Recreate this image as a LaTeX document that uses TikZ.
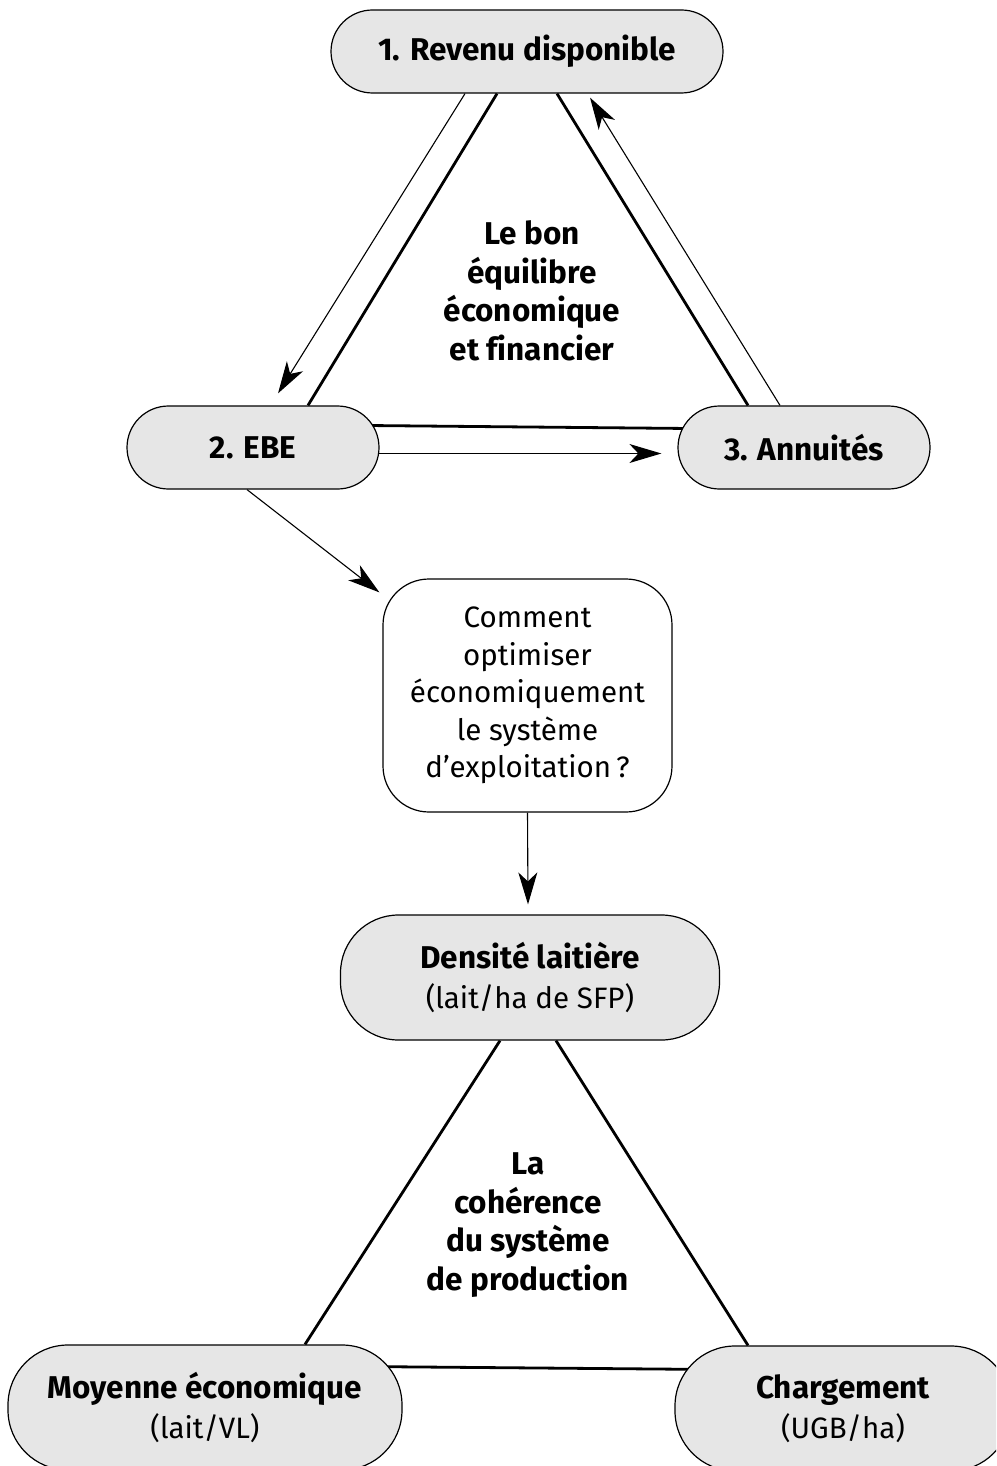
\documentclass[tikz,border=0pt]{standalone}
\usepackage{fontspec}
\setmainfont[Ligatures=NoCommon]{Fira Sans}
\usetikzlibrary{arrows.meta,backgrounds}
\definecolor{boxgray}{HTML}{E6E6E6}
\newcommand\heading[1]{{\bfseries\fontsize{31.5}{40}\selectfont #1}}
\begin{document}
\begin{tikzpicture}[x=1pt,y=-1pt,
  pill/.style={draw=black, line width=1.2pt, fill=boxgray, rounded corners=#1,
    inner sep=0pt, align=center, font=\fontsize{29.5}{40}\selectfont},
  question/.style={draw=black, line width=1.2pt, fill=white, rounded corners=46pt,
    inner sep=0pt, align=center, font=\fontsize{29.5}{37.5}\selectfont},
  caption/.style={align=center, font=\bfseries\fontsize{31.5}{38.5}\selectfont},
  thick link/.style={line width=2.8pt},
  thin link/.style={line width=1.1pt},
  flow/.style={thin link, -{Stealth[length=32pt,width=19pt,inset=9pt]}}
]
\path[use as bounding box, clip] (0,0) rectangle (996,1466);

% upper triangle: income, EBE, annuities
\node[pill=41.5pt, minimum width=392pt, minimum height=83pt] (rev) at (527,51.5)
  {\heading{1. Revenu disponible}};
\node[pill=41.5pt, minimum width=252pt, minimum height=83pt] (ebe) at (253,447.5)
  {\heading{2. EBE}};
\node[pill=41.5pt, minimum width=252pt, minimum height=83pt] (ann) at (804,447.5)
  {\heading{3. Annuités}};
\node[caption] (eq) at (532,291) {Le bon\\équilibre\\économique\\et financier};

% central question
\node[question, minimum width=289pt, minimum height=233pt] (q) at (527.5,695.5)
  {Comment\\optimiser\\économiquement\\le système\\d’exploitation\,?};

% lower triangle: production system
\node[pill=58pt, minimum width=379pt, minimum height=125pt] (dens) at (530,977.5)
  {\heading{Densité laitière}\\(lait/ha de SFP)};
\node[pill=60pt, minimum width=394pt, minimum height=125pt] (moy) at (205,1407.5)
  {\heading{Moyenne économique}\\(lait/VL)};
\node[pill=60pt, minimum width=336pt, minimum height=125pt] (chg) at (843,1408.5)
  {\heading{Chargement}\\(UGB/ha)};
\node[caption] (coh) at (528,1225) {La\\cohérence\\du système\\de production};

\begin{scope}[on background layer]
  % sides of the upper triangle
  \draw[thick link] ([xshift=-30pt]rev.south) -- ([xshift=55pt]ebe.north);
  \draw[thick link] ([xshift=30pt]rev.south) -- ([xshift=-56pt]ann.north);
  \draw[thick link] ([xshift=-12pt,yshift=22pt]ebe.east) -- ([xshift=12pt,yshift=19pt]ann.west);
  % flows along the sides
  \draw[flow] ([xshift=-62pt]rev.south) -- ([xshift=25pt,yshift=12pt]ebe.north);
  \draw[flow] ([xshift=-24pt]ann.north) -- ([xshift=63pt,yshift=-4pt]rev.south);
  \draw[flow] ([xshift=-10pt,yshift=-6pt]ebe.east) -- ([xshift=-16pt,yshift=-6pt]ann.west);
  % from EBE to the question, then to the lower triangle
  \draw[flow] ([xshift=-6pt]ebe.south) -- ([xshift=-3pt,yshift=-14pt]q.north west);
  \draw[flow] (q.south) -- ([xshift=-2pt,yshift=10pt]dens.north);
  % sides of the lower triangle
  \draw[thick link] ([xshift=-30pt]dens.south) -- ([xshift=100pt]moy.north);
  \draw[thick link] ([xshift=26pt]dens.south) -- ([xshift=-95pt]chg.north);
  \draw[thick link] ([xshift=-40pt,yshift=41pt]moy.east) -- ([xshift=40pt,yshift=39pt]chg.west);
\end{scope}
\end{tikzpicture}
\end{document}
